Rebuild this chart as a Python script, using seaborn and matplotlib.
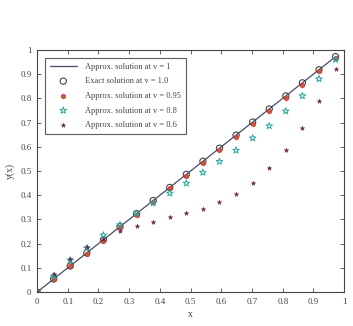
import numpy as np
import pandas as pd
import matplotlib
matplotlib.use("Agg")
import matplotlib.pyplot as plt
import seaborn as sns

x_vals = [0.0, 0.054, 0.108, 0.162, 0.216, 0.270, 0.324, 0.378, 0.432, 0.486,
          0.540, 0.594, 0.648, 0.702, 0.756, 0.810, 0.864, 0.918, 0.972]
approx_v1 = [0.0, 0.054, 0.108, 0.162, 0.216, 0.270, 0.324, 0.378, 0.432, 0.486,
             0.540, 0.594, 0.648, 0.702, 0.756, 0.810, 0.864, 0.918, 0.972]
exact_v1 = [0.0, 0.054, 0.108, 0.162, 0.216, 0.270, 0.324, 0.378, 0.432, 0.486,
            0.540, 0.594, 0.648, 0.702, 0.756, 0.810, 0.864, 0.918, 0.972]
approx_v095 = [0.0, 0.053, 0.106, 0.159, 0.213, 0.267, 0.320, 0.374, 0.428, 0.481,
               0.534, 0.587, 0.640, 0.694, 0.748, 0.802, 0.857, 0.912, 0.967]
approx_v08 = [0.0, 0.066, 0.132, 0.182, 0.235, 0.278, 0.326, 0.367, 0.408, 0.449,
              0.494, 0.539, 0.585, 0.636, 0.686, 0.747, 0.810, 0.880, 0.960]
approx_v06 = [0.0, 0.076, 0.138, 0.186, 0.220, 0.253, 0.274, 0.290, 0.310, 0.326,
              0.345, 0.373, 0.407, 0.450, 0.511, 0.585, 0.678, 0.789, 0.921]

labels = ["Approx. solution at v = 1", "Exact solution at v = 1.0",
          "Approx. solution at v = 0.95", "Approx. solution at v = 0.8",
          "Approx. solution at v = 0.6"]
ticks = [0, 0.1, 0.2, 0.3, 0.4, 0.5, 0.6, 0.7, 0.8, 0.9, 1]
tick_labels = ["0", "0.1", "0.2", "0.3", "0.4", "0.5", "0.6", "0.7", "0.8", "0.9", "1"]

sns.set_style("ticks")
plt.rcParams['font.family'] = ['Liberation Serif', 'DejaVu Serif']

df = pd.DataFrame({"x": x_vals, "a1": approx_v1, "e1": exact_v1,
                   "a095": approx_v095, "a08": approx_v08, "a06": approx_v06})

fig = plt.figure(figsize=(3.53, 3.26), dpi=100)
ax = fig.add_axes([0.105, 0.104, 0.87, 0.743])

sns.lineplot(data=df, x="x", y="a1", ax=ax, color="#4a4a68", lw=0.9, label=labels[0])
sns.scatterplot(data=df, x="x", y="e1", ax=ax, marker="o", s=20, facecolor="none",
                edgecolor="#444444", linewidth=0.8, label=labels[1], zorder=3)
sns.scatterplot(data=df, x="x", y="a095", ax=ax, marker="h", s=13, color="#d8503e",
                edgecolor="#b03a2a", linewidth=0.4, label=labels[2], zorder=4)
sns.scatterplot(data=df, x="x", y="a08", ax=ax, marker="*", s=24, facecolor="none",
                edgecolor="#2aa79b", linewidth=0.7, label=labels[3], zorder=4)
sns.scatterplot(data=df, x="x", y="a06", ax=ax, marker="*", s=11, color="#6a1c4a",
                edgecolor="#6a1c4a", linewidth=0.3, label=labels[4], zorder=4)

ax.set_xlim(0, 1)
ax.set_ylim(0, 1)
ax.set_xticks(ticks)
ax.set_xticklabels(tick_labels)
ax.set_yticks(ticks)
ax.set_yticklabels(tick_labels)
ax.tick_params(direction="in", top=True, right=True, labelsize=6.5, length=3,
               width=0.6, colors="#444444", pad=4)
for sp in ax.spines.values():
    sp.set_visible(True)
    sp.set_linewidth(0.8)
    sp.set_color("#444444")
ax.set_xlabel("x", fontsize=7, color="#444444", labelpad=3)
ax.set_ylabel("y(x)", fontsize=7, color="#444444", labelpad=4)

leg = ax.legend(loc="upper left", fontsize=6.0, frameon=True, fancybox=False,
                edgecolor="#333333", borderpad=0.6, labelspacing=0.8,
                handlelength=3.2, handletextpad=1.0, bbox_to_anchor=(0.012, 0.985))
leg.get_frame().set_linewidth(0.8)
for t in leg.get_texts():
    t.set_color("#444444")

fig.savefig("out.png", dpi=100)
